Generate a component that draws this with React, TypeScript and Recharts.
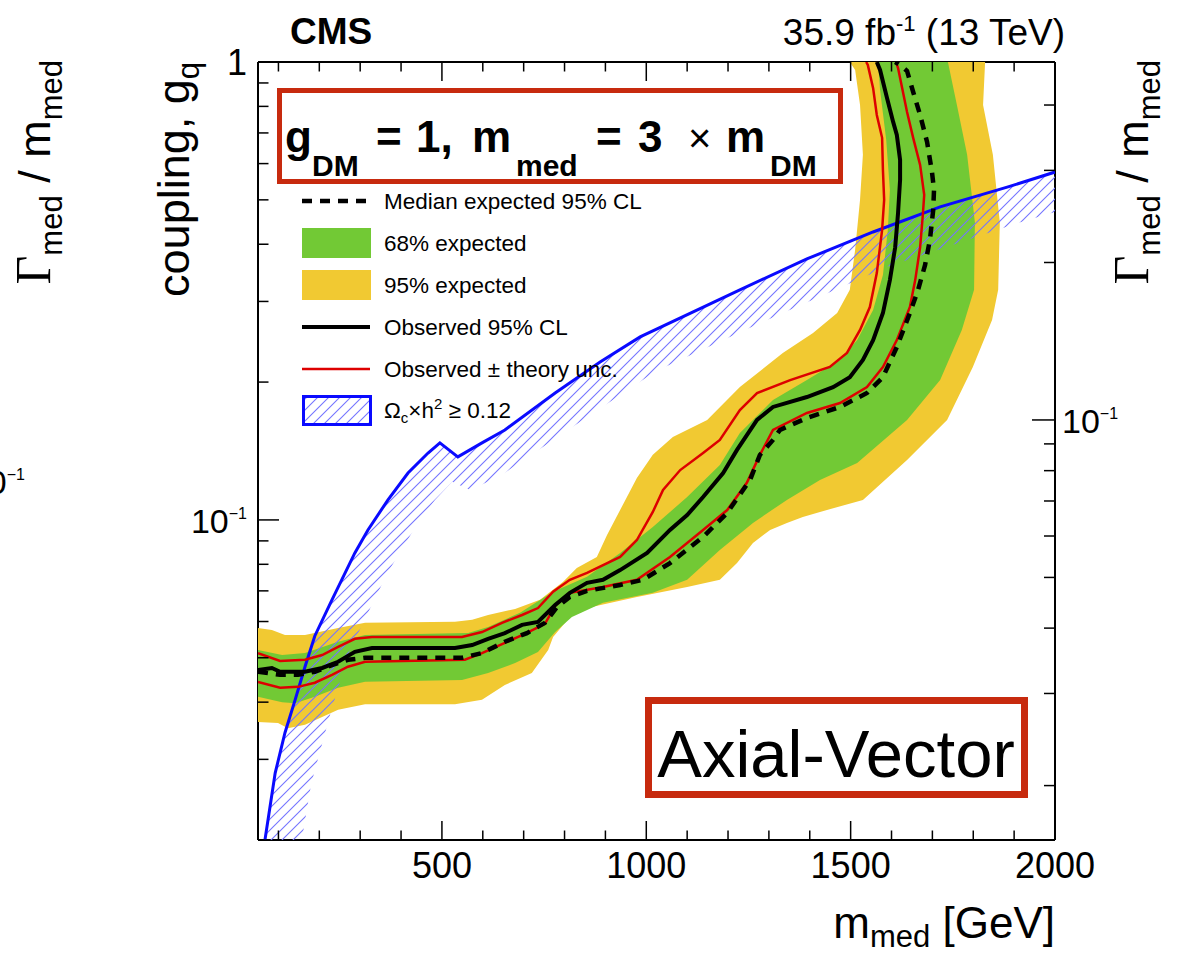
import React from 'react';
import { ComposedChart, Scatter, XAxis, YAxis } from 'recharts';

const W = 1181;
const H = 954;
const FONT = '"Liberation Sans", Arial, Helvetica, sans-serif';
const SERIF = '"Liberation Serif", "Times New Roman", serif';

const YELLOW = '#f1c932';
const GREEN = '#72c935';
const RED = '#dd0000';
const BLUE = '#0a0aff';
const HATCH = '#7474ff';
const BOXRED = '#c72a0e';

// axis ticks
const X_TICKS = [100, 200, 300, 400, 500, 600, 700, 800, 900, 1000, 1100, 1200, 1300, 1400, 1500, 1600, 1700, 1800, 1900, 2000];
const X_LABELS = [500, 1000, 1500, 2000];
const Y_TICKS = [0.02, 0.03, 0.04, 0.05, 0.06, 0.07, 0.08, 0.09, 0.1, 0.2, 0.3, 0.4, 0.5, 0.6, 0.7, 0.8, 0.9, 1];
const Y_MAJOR = [0.1, 1];
const R_TICKS = [0.02, 0.03, 0.04, 0.05, 0.06, 0.07, 0.08, 0.09, 0.1, 0.2, 0.3, 0.4];
const R_MAJOR = [0.1];

// [m_med (GeV), g_q]
const observed: [number, number][] = [
  [50, 0.047], [84, 0.0475], [104, 0.0466], [165, 0.0466], [207, 0.0475], [246, 0.049], [287, 0.0515], [329, 0.0525],
  [532, 0.0525], [574, 0.0533], [613, 0.055], [654, 0.0566], [696, 0.059], [735, 0.0599], [777, 0.0652], [813, 0.0693],
  [855, 0.0729], [894, 0.074], [936, 0.0777], [1002, 0.0847], [1058, 0.0951], [1100, 0.1025], [1139, 0.1122],
  [1188, 0.1266], [1222, 0.1422], [1271, 0.1653], [1310, 0.1765], [1393, 0.1855], [1457, 0.195], [1498, 0.205],
  [1530, 0.2235], [1555, 0.247], [1579, 0.283], [1596, 0.334], [1609, 0.394], [1616, 0.468], [1621, 0.553],
  [1621, 0.611], [1613, 0.693], [1604, 0.74], [1589, 0.834], [1572, 0.961], [1564, 1.0],
];

const expected: [number, number][] = [
  [50, 0.0466], [104, 0.0459], [148, 0.0459], [189, 0.0466], [231, 0.0482], [270, 0.0495], [312, 0.05], [549, 0.05],
  [598, 0.0512], [654, 0.0542], [708, 0.0566], [752, 0.0596], [782, 0.0646], [813, 0.0679], [855, 0.07], [936, 0.0721],
  [992, 0.074], [1058, 0.0805], [1139, 0.0918], [1198, 0.1036], [1254, 0.1223], [1278, 0.1387], [1310, 0.1495],
  [1327, 0.1572], [1393, 0.167], [1474, 0.1765], [1540, 0.1893], [1579, 0.205], [1613, 0.2385], [1645, 0.283],
  [1665, 0.318], [1682, 0.36], [1694, 0.409], [1702, 0.475], [1704, 0.526], [1699, 0.575], [1687, 0.669],
  [1670, 0.766], [1653, 0.86], [1638, 0.956], [1621, 0.985], [1609, 1.0],
];

const theoryUp: [number, number][] = [
  [50, 0.0512], [104, 0.0492], [165, 0.0495], [207, 0.0507], [246, 0.0528], [287, 0.055], [329, 0.0555], [549, 0.0555],
  [598, 0.0569], [647, 0.0596], [696, 0.062], [735, 0.0642], [772, 0.0697], [813, 0.074], [855, 0.0766], [936, 0.083],
  [977, 0.0904], [1016, 0.1041], [1041, 0.1163], [1083, 0.1285], [1139, 0.14], [1180, 0.1495], [1229, 0.1738],
  [1271, 0.1893], [1352, 0.202], [1449, 0.2158], [1491, 0.2315], [1523, 0.26], [1547, 0.2917], [1564, 0.346],
  [1577, 0.43], [1582, 0.5], [1579, 0.581], [1577, 0.683], [1564, 0.766], [1555, 0.877], [1542, 0.985], [1538, 1.0],
];

const theoryDown: [number, number][] = [
  [50, 0.0443], [104, 0.043], [148, 0.0432], [189, 0.0441], [231, 0.0459], [270, 0.0478], [312, 0.049], [556, 0.0495],
  [598, 0.0512], [654, 0.0539], [703, 0.0564], [752, 0.0593], [777, 0.0649], [813, 0.0693], [894, 0.0714], [977, 0.074],
  [1058, 0.083], [1139, 0.0951], [1198, 0.1051], [1246, 0.1205], [1278, 0.1387], [1310, 0.1572], [1393, 0.1712],
  [1474, 0.18], [1540, 0.195], [1579, 0.2158], [1613, 0.247], [1645, 0.2917], [1658, 0.334], [1670, 0.394],
  [1677, 0.468], [1680, 0.513], [1670, 0.596], [1653, 0.683], [1638, 0.778], [1626, 0.877], [1616, 0.97], [1611, 1.0],
];

// 95% band: upper-left edge (low mass -> top), then lower-right edge (top -> low mass)
const band95Upper: [number, number][] = [
  [50, 0.0581], [84, 0.0575], [116, 0.0561], [165, 0.0561], [246, 0.0581], [312, 0.0596], [532, 0.0599], [574, 0.0605],
  [613, 0.062], [679, 0.0639], [740, 0.0669], [796, 0.0732], [830, 0.0785], [879, 0.083], [904, 0.0927], [936, 0.1051],
  [977, 0.1235], [1016, 0.1387], [1065, 0.1518], [1149, 0.1653], [1229, 0.195], [1334, 0.2315], [1408, 0.256],
  [1467, 0.283], [1498, 0.318], [1511, 0.389], [1523, 0.5], [1530, 0.627], [1523, 0.806], [1511, 0.961], [1498, 1.0],
];
const band95Lower: [number, number][] = [
  [1829, 1.0], [1824, 0.806], [1848, 0.627], [1865, 0.447], [1861, 0.318], [1846, 0.2734], [1799, 0.2158],
  [1736, 0.1653], [1638, 0.1352], [1530, 0.1106], [1425, 0.1041], [1383, 0.1015], [1344, 0.0985], [1303, 0.0951],
  [1261, 0.0891], [1222, 0.0805], [1180, 0.074], [1100, 0.0714], [977, 0.0679], [855, 0.0642], [813, 0.0614],
  [772, 0.0555], [760, 0.052], [720, 0.0463], [654, 0.0436], [598, 0.0405], [532, 0.0396], [312, 0.0396],
  [246, 0.0385], [165, 0.0357], [123, 0.0351], [99, 0.036], [50, 0.0362],
];

// 68% band
const band68Upper: [number, number][] = [
  [50, 0.052], [109, 0.0507], [165, 0.0512], [246, 0.0542], [312, 0.0561], [564, 0.0566], [613, 0.0584], [691, 0.0627],
  [772, 0.0697], [855, 0.0751], [936, 0.0847], [1016, 0.0965], [1100, 0.1122], [1180, 0.1318], [1229, 0.1549],
  [1310, 0.1828], [1393, 0.202], [1474, 0.2235], [1516, 0.247], [1555, 0.2874], [1579, 0.3427], [1591, 0.43],
  [1596, 0.5255], [1587, 0.676], [1572, 0.8685], [1567, 1.0],
];
const band68Lower: [number, number][] = [
  [1738, 1.0], [1760, 0.806], [1785, 0.627], [1804, 0.447], [1802, 0.318], [1772, 0.26], [1719, 0.202], [1638, 0.1653],
  [1516, 0.1331], [1425, 0.1223], [1344, 0.1106], [1261, 0.0985], [1180, 0.086], [1100, 0.074], [1016, 0.0693],
  [894, 0.0659], [818, 0.0614], [777, 0.0569], [735, 0.0515], [679, 0.0487], [613, 0.0463], [549, 0.0447],
  [312, 0.0443], [246, 0.043], [189, 0.0411], [141, 0.0398], [109, 0.04], [50, 0.0411],
];

// relic density line, and the far edge of its hatched band (high mass -> low mass)
const relic: [number, number][] = [
  [67, 0.02], [92, 0.028], [116, 0.0343], [141, 0.0405], [165, 0.0478], [189, 0.0558], [231, 0.0669], [287, 0.0847],
  [319, 0.0951], [368, 0.1106], [417, 0.1266], [466, 0.14], [495, 0.1473], [539, 0.1373], [598, 0.1473], [654, 0.1572],
  [777, 0.1893], [887, 0.2213], [985, 0.251], [1229, 0.318], [1393, 0.3715], [1555, 0.4254], [1719, 0.4826],
  [1883, 0.533], [2000, 0.575],
];
const relicEdge: [number, number][] = [
  [2000, 0.4705], [1909, 0.445], [1589, 0.357], [1268, 0.2666], [1024, 0.2115], [830, 0.162], [642, 0.1247],
  [569, 0.1163], [525, 0.1211], [483, 0.1106], [441, 0.0985], [368, 0.077], [314, 0.0614], [273, 0.0515],
  [229, 0.0383], [180, 0.0265], [153, 0.019],
];

const pts = (a: [number, number][]) => a.map(([m, g]) => ({ m, g }));
const band95 = pts([...band95Upper, ...band95Lower]);
const band68 = pts([...band68Upper, ...band68Lower]);
const hatchPoly = pts([...relic, ...relicEdge]);

const Empty = () => <g />;
const near = (v: number, list: number[]) => list.some((t) => Math.abs(t - v) < 1e-9);

function BottomTick(props: any) {
  const { x, y, payload } = props;
  const v = payload.value;
  const major = near(v, X_LABELS);
  return (
    <g>
      <line x1={x} x2={x} y1={y} y2={y - (major ? 19 : 9.5)} stroke="#000" strokeWidth={1.5} />
      {major && (
        <text x={x} y={y + 38} textAnchor="middle" fontSize={36} fontFamily={FONT} fill="#000">
          {v}
        </text>
      )}
    </g>
  );
}

function TopTick(props: any) {
  const { x, y, payload } = props;
  const major = near(payload.value, X_LABELS);
  return <line x1={x} x2={x} y1={y} y2={y + (major ? 19 : 9.5)} stroke="#000" strokeWidth={1.5} />;
}

function LeftTick(props: any) {
  const { x, y, payload } = props;
  const v = payload.value;
  const major = near(v, Y_MAJOR);
  return (
    <g>
      <line x1={x} x2={x + (major ? 21 : 10.5)} y1={y} y2={y} stroke="#000" strokeWidth={1.5} />
      {near(v, [1]) && (
        <text x={x - 11} y={y + 13} textAnchor="end" fontSize={36} fontFamily={FONT} fill="#000">1</text>
      )}
      {near(v, [0.1]) && (
        <text x={x - 11} y={y + 13} textAnchor="end" fontSize={34} fontFamily={FONT} fill="#000">
          10<tspan fontSize={16} dy={-14}>−1</tspan>
        </text>
      )}
    </g>
  );
}

function RightTick(props: any) {
  const { x, y, payload } = props;
  const v = payload.value;
  const major = near(v, R_MAJOR);
  return (
    <g>
      <line x1={x} x2={x - (major ? 23 : 11)} y1={y} y2={y} stroke="#000" strokeWidth={1.5} />
      {major && (
        <text x={x + 7} y={y + 13} textAnchor="start" fontSize={34} fontFamily={FONT} fill="#000">
          10<tspan fontSize={16} dy={-14}>−1</tspan>
        </text>
      )}
    </g>
  );
}

const legendRows = [
  { y: 201, label: 'Median expected 95% CL' },
  { y: 243, label: '68% expected' },
  { y: 285, label: '95% expected' },
  { y: 327, label: 'Observed 95% CL' },
  { y: 369, label: 'Observed ± theory unc.' },
];

function HatchPattern({ id }: { id: string }) {
  return (
    <pattern id={id} patternUnits="userSpaceOnUse" width={11} height={11}>
      <path d="M0,11 L11,0 M-2,2 L2,-2 M9,13 L13,9" fill="none" stroke={HATCH} strokeWidth={1.1} />
    </pattern>
  );
}

function Overlay() {
  const sub = 30;
  return (
    <svg width={W} height={H} style={{ position: 'absolute', left: 0, top: 0, pointerEvents: 'none' }} fontFamily={FONT}>
      <defs>
        <HatchPattern id="hatchLegend" />
      </defs>
      {/* header */}
      <text x={290} y={44} fontSize={37} fontWeight="bold">CMS</text>
      <text x={1065} y={45} fontSize={37} textAnchor="end">
        35.9 fb<tspan dy={-14} fontSize={22}>-1</tspan><tspan dy={14}> (13 TeV)</tspan>
      </text>

      {/* model box */}
      <rect x={279.5} y={90.5} width={561} height={91} fill="none" stroke={BOXRED} strokeWidth={5} />
      <g fontWeight="bold" fill="#000">
        <text x={285} y={152} fontSize={44}>g</text>
        <text x={312} y={176} fontSize={sub}>DM</text>
        <text x={376} y={152} fontSize={44}>=</text>
        <text x={416} y={152} fontSize={44}>1,</text>
        <text x={472} y={152} fontSize={44}>m</text>
        <text x={516} y={176} fontSize={sub}>med</text>
        <text x={596} y={152} fontSize={44}>=</text>
        <text x={638} y={152} fontSize={44}>3</text>
        <text x={688} y={152} fontSize={40} fontWeight="normal">×</text>
        <text x={726} y={152} fontSize={44}>m</text>
        <text x={770} y={176} fontSize={sub}>DM</text>
      </g>

      {/* legend */}
      <line x1={302} x2={370} y1={201} y2={201} stroke="#000" strokeWidth={4.5} strokeDasharray="10 8" />
      <rect x={302} y={228} width={69} height={30} fill={GREEN} />
      <rect x={302} y={270} width={69} height={30} fill={YELLOW} />
      <line x1={302} x2={370} y1={327} y2={327} stroke="#000" strokeWidth={4} />
      <line x1={302} x2={370} y1={369} y2={369} stroke={RED} strokeWidth={2.5} />
      <rect x={303.5} y={396.5} width={67} height={28} fill="url(#hatchLegend)" stroke={BLUE} strokeWidth={3} />
      {legendRows.map((r) => (
        <text key={r.label} x={384} y={r.y + 8} fontSize={22.5}>{r.label}</text>
      ))}
      <text x={384} y={418} fontSize={22.5}>
        Ω<tspan fontSize={15} dy={5}>c</tspan><tspan dy={-5}>×h</tspan><tspan fontSize={15} dy={-9}>2</tspan><tspan dy={9}> ≥ 0.12</tspan>
      </text>

      {/* Axial-Vector box */}
      <rect x={648.5} y={700.5} width={376} height={94} fill="none" stroke={BOXRED} strokeWidth={7} />
      <text x={836} y={777} textAnchor="middle" fontSize={67}>Axial-Vector</text>

      {/* axis titles */}
      <text transform="translate(189,62) rotate(-90)" textAnchor="end" fontSize={45}>
        coupling, g<tspan fontSize={31} dy={10}>q</tspan>
      </text>
      <text x={1055} y={938} textAnchor="end" fontSize={44}>
        m<tspan fontSize={31} dy={9}>med</tspan><tspan dy={-9}> [GeV]</tspan>
      </text>
      <text transform="translate(1148,60) rotate(-90)" textAnchor="end" fontSize={45}>
        <tspan fontFamily={SERIF} fontSize={50}>Γ</tspan><tspan fontSize={31} dy={12}>med</tspan><tspan dy={-12}> / m</tspan><tspan fontSize={31} dy={12}>med</tspan>
      </text>
      <text transform="translate(50,60) rotate(-90)" textAnchor="end" fontSize={45}>
        <tspan fontFamily={SERIF} fontSize={50}>Γ</tspan><tspan fontSize={31} dy={12}>med</tspan><tspan dy={-12}> / m</tspan><tspan fontSize={31} dy={12}>med</tspan>
      </text>
      <text x={25} y={494} textAnchor="end" fontSize={34}>
        10<tspan fontSize={16} dy={-14}>−1</tspan>
      </text>
    </svg>
  );
}

export default function App() {
  return (
    <div style={{ position: 'absolute', left: 0, top: 0, width: W, height: H, background: '#fff', fontFamily: FONT }}>
      <ComposedChart width={W} height={H} margin={{ top: 61, right: W - 1056, bottom: H - 841, left: 257 }}>
        <defs>
          <HatchPattern id="hatchPlot" />
        </defs>
        <XAxis xAxisId="b" type="number" dataKey="m" domain={[50, 2000]} allowDataOverflow ticks={X_TICKS} interval={0}
          height={1} tickSize={0} tickMargin={0} tickLine={false} tick={BottomTick}
          axisLine={{ stroke: '#000', strokeWidth: 2 }} />
        <XAxis xAxisId="t" orientation="top" type="number" dataKey="m" domain={[50, 2000]} allowDataOverflow ticks={X_TICKS}
          interval={0} height={1} tickSize={0} tickMargin={0} tickLine={false} tick={TopTick}
          axisLine={{ stroke: '#000', strokeWidth: 2 }} />
        <YAxis yAxisId="l" type="number" dataKey="g" scale="log" domain={[0.02, 1]} allowDataOverflow ticks={Y_TICKS}
          interval={0} width={1} tickSize={0} tickMargin={0} tickLine={false} tick={LeftTick}
          axisLine={{ stroke: '#000', strokeWidth: 2 }} />
        <YAxis yAxisId="r" orientation="right" type="number" dataKey="g" scale="log" domain={[0.01574, 0.4834]}
          allowDataOverflow ticks={R_TICKS} interval={0} width={1} tickSize={0} tickMargin={0} tickLine={false}
          tick={RightTick} axisLine={{ stroke: '#000', strokeWidth: 2 }} />

        <Scatter xAxisId="b" yAxisId="l" data={band95} shape={Empty} isAnimationActive={false}
          line={{ fill: YELLOW, stroke: 'none' }} lineType="joint" lineJointType="linear" />
        <Scatter xAxisId="b" yAxisId="l" data={band68} shape={Empty} isAnimationActive={false}
          line={{ fill: GREEN, stroke: 'none' }} lineType="joint" lineJointType="linear" />
        <Scatter xAxisId="b" yAxisId="l" data={hatchPoly} shape={Empty} isAnimationActive={false}
          line={{ fill: 'url(#hatchPlot)', stroke: 'none' }} lineType="joint" lineJointType="linear" />
        <Scatter xAxisId="b" yAxisId="l" data={pts(relic)} shape={Empty} isAnimationActive={false}
          line={{ stroke: BLUE, strokeWidth: 3, fill: 'none' }} lineType="joint" lineJointType="linear" />
        <Scatter xAxisId="b" yAxisId="l" data={pts(theoryUp)} shape={Empty} isAnimationActive={false}
          line={{ stroke: RED, strokeWidth: 2.5, fill: 'none' }} lineType="joint" lineJointType="linear" />
        <Scatter xAxisId="b" yAxisId="l" data={pts(theoryDown)} shape={Empty} isAnimationActive={false}
          line={{ stroke: RED, strokeWidth: 2.5, fill: 'none' }} lineType="joint" lineJointType="linear" />
        <Scatter xAxisId="b" yAxisId="l" data={pts(expected)} shape={Empty} isAnimationActive={false}
          line={{ stroke: '#000', strokeWidth: 4.5, strokeDasharray: '10 8', fill: 'none' }} lineType="joint" lineJointType="linear" />
        <Scatter xAxisId="b" yAxisId="l" data={pts(observed)} shape={Empty} isAnimationActive={false}
          line={{ stroke: '#000', strokeWidth: 4, fill: 'none' }} lineType="joint" lineJointType="linear" />
      </ComposedChart>
      <Overlay />
    </div>
  );
}
